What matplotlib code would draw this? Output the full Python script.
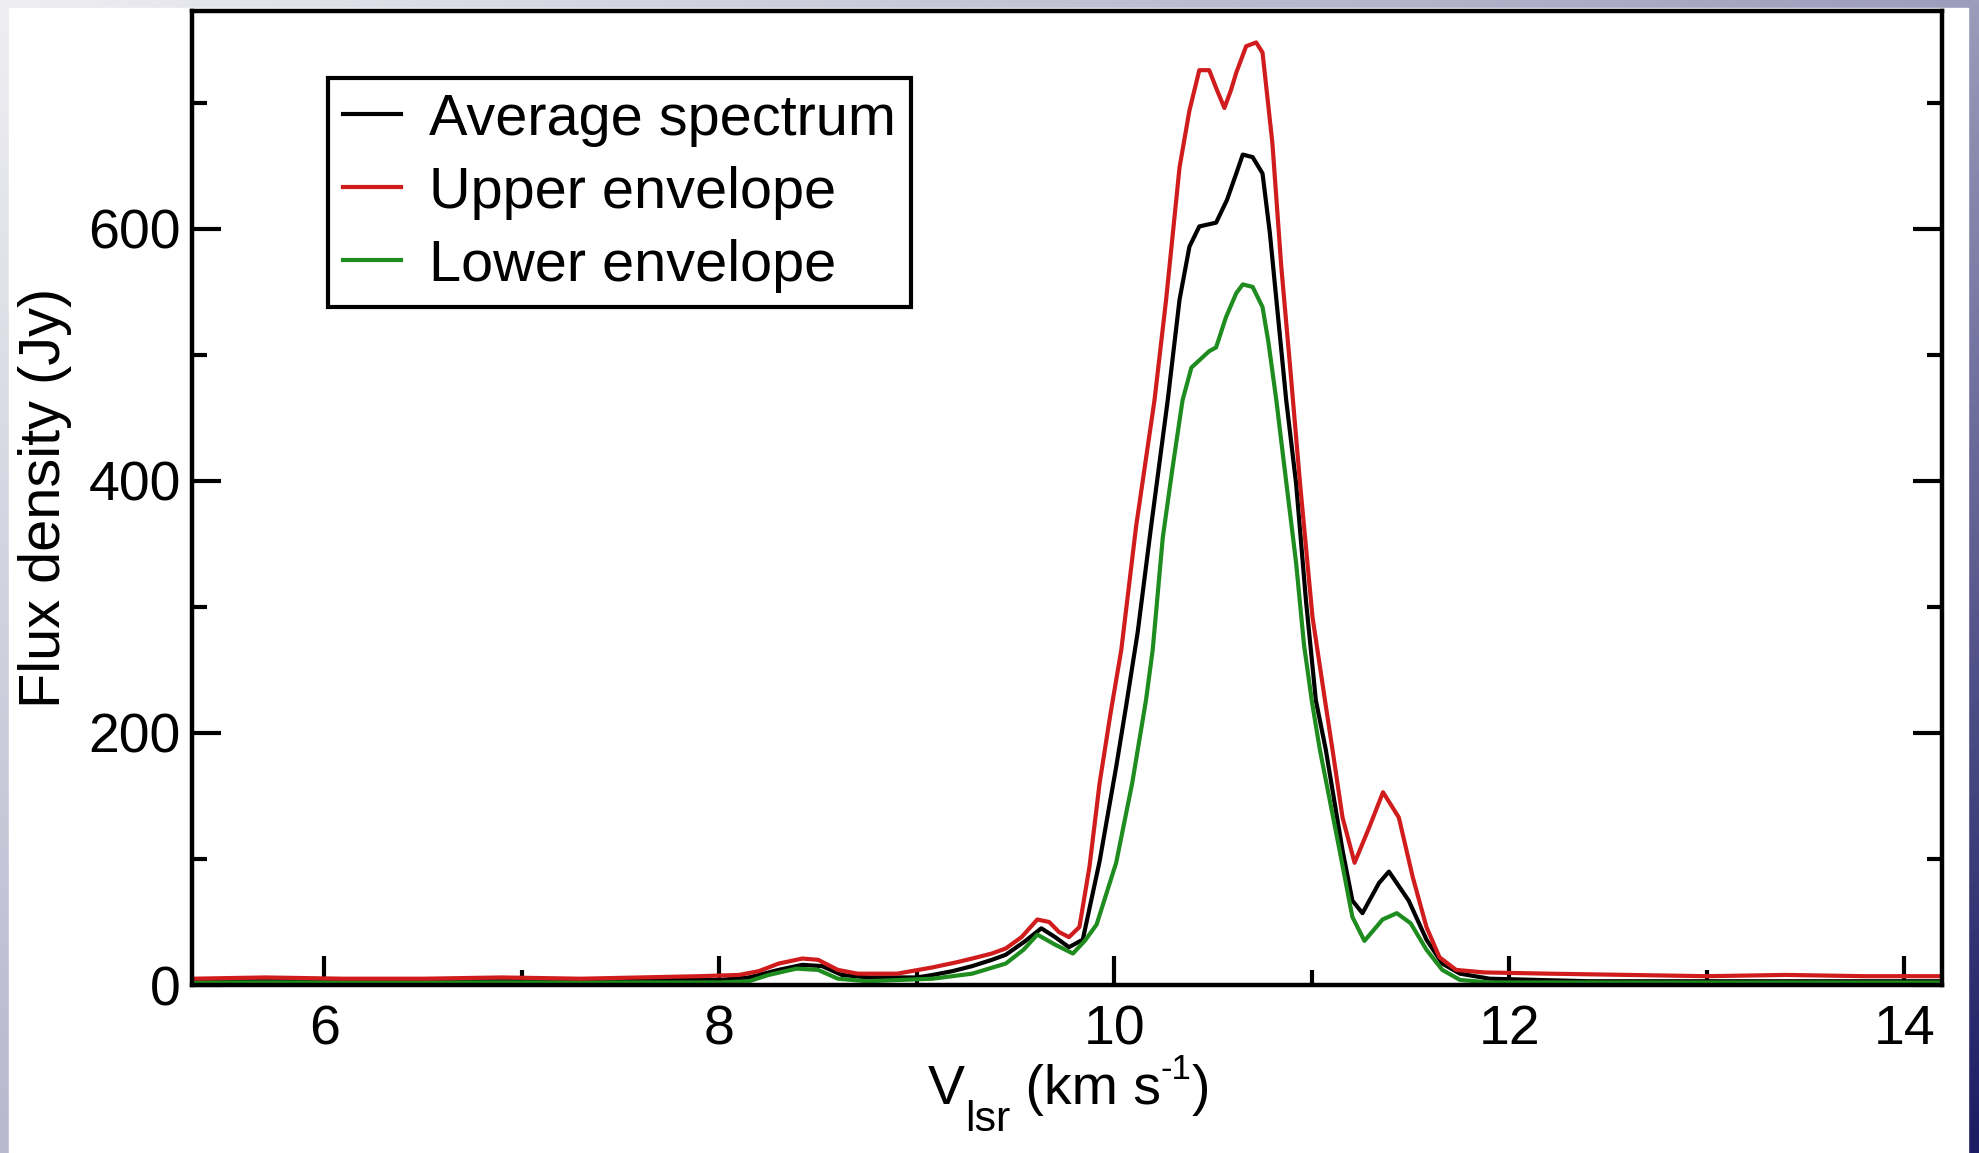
import numpy as np
import matplotlib
matplotlib.use("Agg")
import matplotlib.pyplot as plt
from matplotlib.ticker import MultipleLocator
from matplotlib.colors import LinearSegmentedColormap
from matplotlib.patches import Rectangle

plt.rcParams['font.family'] = 'Liberation Sans'

# average spectrum
vel_avg = [5.33, 5.8, 6.3, 6.8, 7.3, 7.7, 8.0, 8.15, 8.3, 8.42, 8.52, 8.62, 8.75, 9.0, 9.08,
           9.18, 9.28, 9.38, 9.45, 9.55, 9.63, 9.70, 9.77, 9.84, 9.925, 10.009, 10.06, 10.118,
           10.186, 10.27, 10.30, 10.33, 10.38, 10.43, 10.515, 10.57, 10.617, 10.65, 10.70,
           10.75, 10.787, 10.82, 10.87, 10.92, 10.97, 11.02, 11.07, 11.155, 11.205, 11.256,
           11.34, 11.39, 11.49, 11.58, 11.66, 11.75, 11.9, 12.4, 13.0, 13.6, 14.2]
flux_avg = [3, 3, 3, 3, 3, 4, 4, 6, 12, 16, 15, 8, 6, 6, 8,
            11, 15, 20, 24, 35, 45, 38, 30, 36, 98, 173, 222, 280,
            364, 464, 504, 544, 586, 602, 605, 623, 644, 659, 657,
            644, 597, 544, 464, 398, 305, 226, 187, 107, 67, 57,
            81, 90, 67, 36, 17, 9, 5, 3, 3, 3, 3]

# upper envelope
vel_upper = [5.33, 5.7, 6.1, 6.5, 6.9, 7.3, 7.6, 7.9, 8.1, 8.2, 8.3, 8.42, 8.5, 8.6, 8.7,
             8.9, 9.08, 9.2, 9.28, 9.38, 9.45, 9.53, 9.61, 9.67, 9.72, 9.77, 9.823, 9.874,
             9.925, 9.98, 10.035, 10.11, 10.203, 10.262, 10.33, 10.38, 10.43, 10.48, 10.52,
             10.557, 10.59, 10.617, 10.667, 10.718, 10.75, 10.80, 10.845, 10.89, 10.94,
             11.003, 11.07, 11.104, 11.155, 11.216, 11.29, 11.36, 11.44, 11.51, 11.58,
             11.646, 11.73, 11.87, 12.2, 12.6, 13.0, 13.4, 13.8, 14.2]
flux_upper = [5, 6, 5, 5, 6, 5, 6, 7, 8, 11, 17, 21, 20, 12, 9,
              9, 14, 18, 21, 25, 29, 38, 52, 50, 42, 38, 46, 94,
              160, 215, 266, 364, 464, 544, 649, 694, 726, 726, 710,
              696, 710, 724, 745, 748, 740, 668, 570, 490, 398,
              292, 222, 187, 133, 97, 125, 153, 133, 86, 46,
              22, 12, 10, 9, 8, 7, 8, 7, 7]

# lower envelope
vel_lower = [5.33, 6.0, 6.7, 7.4, 8.0, 8.15, 8.25, 8.39, 8.5, 8.6, 8.75, 9.08, 9.28, 9.45,
             9.54, 9.61, 9.70, 9.79, 9.85, 9.91, 10.009, 10.09, 10.16, 10.194, 10.245,
             10.295, 10.345, 10.39, 10.48, 10.515, 10.565, 10.617, 10.65, 10.70, 10.75,
             10.78, 10.82, 10.85, 10.92, 10.96, 11.0, 11.04, 11.14, 11.205, 11.266,
             11.358, 11.43, 11.50, 11.58, 11.66, 11.75, 11.9, 12.5, 13.2, 14.2]
flux_lower = [2, 2, 2, 2, 2, 3, 8, 13, 12, 5, 3, 5, 9, 17,
              28, 40, 32, 25, 35, 48, 97, 160, 226, 266, 355,
              411, 464, 490, 503, 506, 530, 549, 556, 554, 538,
              510, 464, 425, 335, 270, 225, 187, 107, 54, 35,
              52, 57, 49, 28, 12, 4, 2, 2, 2, 2]

W, H = 1979, 1153
fig = plt.figure(figsize=(W / 100, H / 100), dpi=100)

# slide background behind the white plot panel
bg = fig.add_axes([0, 0, 1, 1], zorder=-10)
u, v = np.meshgrid(np.linspace(0, 1, 400), np.linspace(0, 1, 240))
slide = LinearSegmentedColormap.from_list(
    'slide', [(0, '#eeeef2'), (0.6, '#9c9cbc'), (1, '#1c1c64')])
bg.imshow(0.6 * u + 0.4 * v, cmap=slide, extent=[0, 1, 0, 1], aspect='auto',
          origin='upper', vmin=0, vmax=1)
bg.add_patch(Rectangle((9 / W, 0), (1968 - 9) / W, (H - 8) / H,
                       transform=bg.transAxes, color='white'))
bg.set_xlim(0, 1)
bg.set_ylim(0, 1)
bg.axis('off')

ax = fig.add_axes([0.0970, 0.1457, 0.8843, 0.8448])
ax.plot(vel_avg, flux_avg, color='black', lw=3, label='Average spectrum')
ax.plot(vel_lower, flux_lower, color='#1e8c1e', lw=3, label='Lower envelope')
ax.plot(vel_upper, flux_upper, color='#d01c1c', lw=3, label='Upper envelope')

ax.set_xlim(5.33, 14.19)
ax.set_ylim(0, 773)
ax.xaxis.set_major_locator(MultipleLocator(2))
ax.xaxis.set_minor_locator(MultipleLocator(1))
ax.yaxis.set_major_locator(MultipleLocator(200))
ax.yaxis.set_minor_locator(MultipleLocator(100))
ax.tick_params(which='both', direction='in', top=False, right=True, width=3,
               labelsize=40)
ax.tick_params(which='major', length=21)
ax.tick_params(which='minor', length=11)
ax.tick_params(axis='x', pad=14)
ax.tick_params(axis='y', pad=8)
for s in ax.spines.values():
    s.set_linewidth(3.2)

ax.set_ylabel('Flux density (Jy)', fontsize=41.5, labelpad=12)

# x label built from pieces so the subscript/superscript sit like the grace output
parts = [('V', 40, 0), ('lsr', 31, -27), (' (km s', 40, 0), ('-1', 25, 25), (')', 40, 0)]
base = H - 1104
renderer = fig.canvas.get_renderer()
texts = [fig.text(0, (base + dy) / H, s, fontsize=fs, va='baseline', ha='left')
         for s, fs, dy in parts]
widths = [t.get_window_extent(renderer).width for t in texts]
x = 1069 - sum(widths) / 2
for t, w in zip(texts, widths):
    t.set_x(x / W)
    x += w

h, l = ax.get_legend_handles_labels()
order = [0, 2, 1]
leg = ax.legend([h[i] for i in order], [l[i] for i in order],
                loc='upper left', bbox_to_anchor=(0.078, 0.931), borderaxespad=0,
                fancybox=False, edgecolor='black', framealpha=1, fontsize=41.5,
                handlelength=1.0, handletextpad=0.5, labelspacing=0.33,
                borderpad=0.25)
leg.get_frame().set_linewidth(3)

fig.savefig('out.png', dpi=100)
